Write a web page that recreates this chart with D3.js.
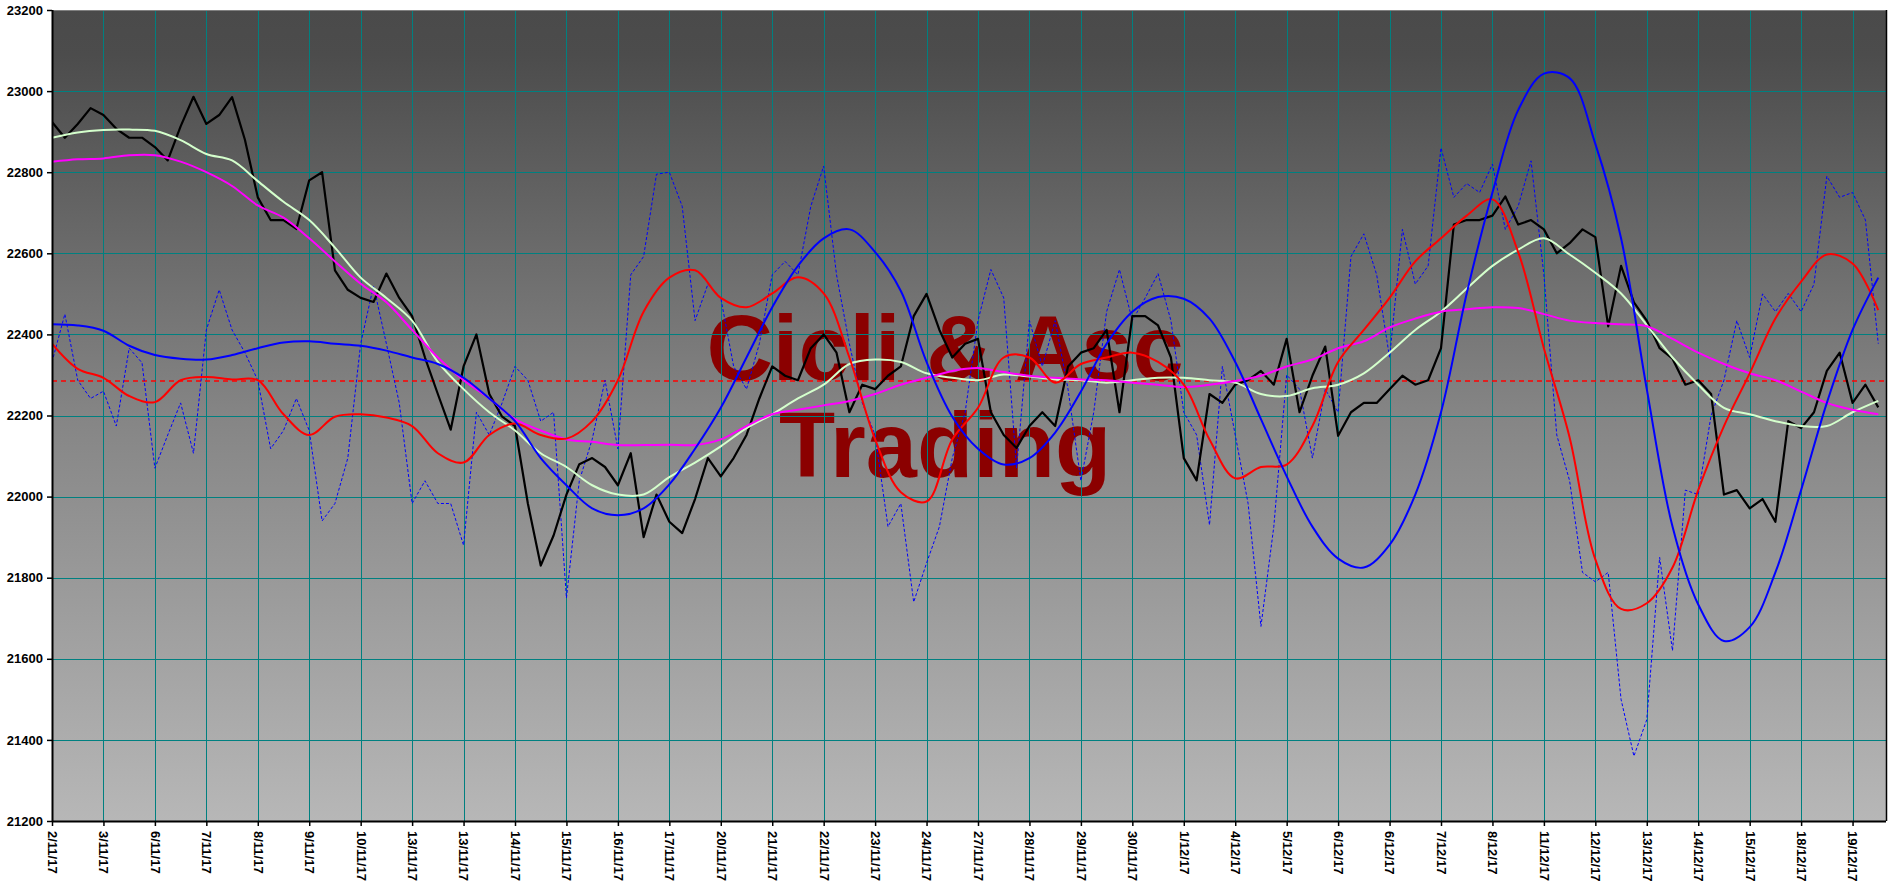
<!DOCTYPE html>
<html><head><meta charset="utf-8">
<script src="https://cdn.jsdelivr.net/npm/d3@7"></script>
<style>html,body{margin:0;padding:0;background:#fff;} svg{display:block;}</style>
</head><body>
<svg id="chart" width="1897" height="894"></svg>
<script>
// ---------- DATA ----------
const dateLabels = ["2/11/17","3/11/17","6/11/17","7/11/17","8/11/17","9/11/17","10/11/17","13/11/17","13/11/17","14/11/17","15/11/17","16/11/17","17/11/17","20/11/17","21/11/17","22/11/17","23/11/17","24/11/17","27/11/17","28/11/17","29/11/17","30/11/17","1/12/17","4/12/17","5/12/17","6/12/17","6/12/17","7/12/17","8/12/17","11/12/17","12/12/17","13/12/17","14/12/17","15/12/17","18/12/17","19/12/17"];
const barsPerLabel = 4;
const yTicks = [21200,21400,21600,21800,22000,22200,22400,22600,22800,23000,23200];

const price = [22924,22885,22919,22958,22941,22907,22885,22885,22862,22829,22913,22986,22919,22941,22985,22880,22738,22682,22682,22660,22780,22800,22558,22510,22490,22480,22550,22490,22445,22343,22253,22165,22321,22400,22253,22197,22174,21983,21830,21904,22005,22080,22095,22073,22028,22107,21900,22005,21938,21910,21994,22095,22050,22095,22152,22242,22321,22298,22287,22366,22400,22355,22208,22276,22265,22298,22321,22445,22500,22411,22343,22377,22389,22208,22152,22120,22174,22208,22174,22321,22355,22366,22411,22208,22445,22445,22422,22343,22095,22040,22253,22231,22276,22287,22310,22276,22389,22208,22298,22370,22150,22208,22231,22231,22265,22298,22276,22287,22366,22671,22682,22682,22693,22740,22671,22682,22659,22600,22625,22659,22640,22420,22569,22479,22434,22366,22340,22276,22287,22253,22005,22016,21971,21994,21938,22186,22169,22208,22310,22355,22231,22276,22220];

const oscillator = [22332,22450,22287,22242,22260,22174,22366,22330,22070,22152,22231,22107,22411,22510,22411,22355,22287,22118,22163,22242,22163,21940,21983,22095,22377,22520,22377,22231,21983,22039,21983,21983,21880,22208,22152,22231,22321,22287,22186,22208,21750,22039,22141,22287,22118,22547,22592,22795,22800,22716,22434,22524,22490,22321,22265,22377,22547,22580,22547,22716,22815,22547,22377,22231,22152,21926,21983,21740,21836,21926,22095,22208,22434,22560,22490,22070,22434,22321,22434,22265,22039,22208,22456,22560,22434,22490,22550,22434,22208,22152,21930,22321,22152,21983,21680,21926,22300,22265,22095,22265,22208,22592,22648,22547,22343,22659,22524,22569,22860,22738,22772,22750,22820,22659,22716,22828,22547,22152,22039,21813,21790,21813,21500,21360,21450,21850,21620,22016,22005,22200,22287,22434,22343,22500,22456,22501,22456,22524,22790,22738,22750,22682,22377];

const smoothStep = 2; // one value every 2 bars
const whiteAvg = [22885,22898,22904,22905,22902,22879,22845,22829,22778,22727,22682,22614,22540,22490,22434,22332,22265,22208,22163,22107,22073,22028,22005,22005,22048,22084,22124,22169,22203,22242,22276,22327,22338,22332,22304,22293,22287,22301,22296,22289,22287,22281,22287,22293,22293,22287,22281,22253,22248,22267,22276,22304,22355,22411,22456,22513,22569,22609,22637,22597,22552,22501,22423,22343,22276,22219,22203,22186,22174,22174,22208,22236];
const magentaAvg = [22826,22832,22834,22842,22842,22826,22800,22766,22718,22688,22637,22580,22525,22479,22411,22343,22287,22242,22191,22163,22141,22135,22127,22127,22128,22127,22141,22174,22203,22214,22225,22236,22253,22276,22293,22310,22317,22307,22298,22293,22289,22287,22281,22276,22270,22276,22285,22298,22321,22338,22366,22383,22417,22439,22456,22462,22467,22465,22450,22434,22428,22425,22420,22389,22355,22327,22304,22287,22259,22231,22214,22203];
const redCycle = [22377,22315,22293,22248,22233,22287,22295,22289,22287,22203,22152,22197,22203,22195,22174,22107,22084,22152,22180,22152,22143,22186,22287,22456,22540,22558,22490,22467,22501,22541,22501,22343,22141,22011,21988,22141,22219,22343,22343,22281,22327,22343,22355,22332,22276,22141,22045,22073,22079,22174,22332,22411,22490,22580,22637,22693,22733,22603,22366,22146,21845,21723,21737,21825,22016,22174,22304,22439,22530,22597,22575,22460];
const blueCycle = [22425,22422,22409,22372,22349,22340,22338,22349,22366,22380,22383,22377,22372,22360,22343,22327,22293,22242,22186,22095,22028,21971,21954,21971,22030,22118,22219,22343,22467,22569,22637,22659,22603,22507,22332,22197,22118,22079,22095,22158,22259,22377,22456,22492,22488,22439,22332,22191,22050,21926,21847,21825,21881,22005,22208,22501,22750,22953,23043,23032,22870,22637,22265,21926,21734,21644,21678,21813,22016,22231,22411,22540];
const refLevel = 22285;
const watermarkLines = ["Cicli & Asc", "Trading"];

// ---------- LAYOUT ----------
const pLeft = 52, pRight = 1886, pTop = 10, pBottom = 821;
const xMax = 142.6;
const x = d3.scaleLinear().domain([0, xMax]).range([pLeft, pRight]);
const y = d3.scaleLinear().domain([21200, 23200]).range([pBottom, pTop]);
const svg = d3.select("#chart");
const font = "Arial, 'Liberation Sans', sans-serif";

const defs = svg.append("defs");
const grad = defs.append("linearGradient").attr("id","bg").attr("x1",0).attr("y1",0).attr("x2",0).attr("y2",1);
grad.append("stop").attr("offset","0%").attr("stop-color","#4a4a4a");
grad.append("stop").attr("offset","5.5%").attr("stop-color","#4c4c4c");
grad.append("stop").attr("offset","50%").attr("stop-color","#858585");
grad.append("stop").attr("offset","100%").attr("stop-color","#b7b7b7");
defs.append("clipPath").attr("id","clip").append("rect")
  .attr("x",pLeft).attr("y",pTop).attr("width",pRight-pLeft).attr("height",pBottom-pTop);
const blur = defs.append("filter").attr("id","soft");
blur.append("feGaussianBlur").attr("stdDeviation",0.7);

svg.append("rect").attr("x",pLeft).attr("y",pTop).attr("width",pRight-pLeft).attr("height",pBottom-pTop).attr("fill","url(#bg)");

// watermark
const wm = svg.append("g").attr("filter","url(#soft)");
wm.selectAll("text").data(watermarkLines).join("text")
  .attr("x", 945).attr("y", (d,i)=> i===0 ? 380 : 477)
  .attr("text-anchor","middle")
  .attr("font-family", font).attr("font-weight","bold").attr("font-size", 92)
  .attr("fill","#8b0000").text(d=>d);

// grid
const xTickVals = dateLabels.map((d,i)=>i*barsPerLabel);
const grid = svg.append("g").attr("shape-rendering","crispEdges").attr("stroke","#008080").attr("stroke-width",1);
grid.selectAll("line.h").data(yTicks.slice(1,-1)).join("line").attr("class","h")
  .attr("x1",pLeft).attr("x2",pRight).attr("y1",d=>Math.round(y(d))+0.5).attr("y2",d=>Math.round(y(d))+0.5);
grid.selectAll("line.v").data(xTickVals.slice(1)).join("line").attr("class","v")
  .attr("y1",pTop).attr("y2",pBottom).attr("x1",d=>Math.round(x(d))+0.5).attr("x2",d=>Math.round(x(d))+0.5);

const plot = svg.append("g").attr("clip-path","url(#clip)");

// reference level
plot.append("line").attr("x1",pLeft).attr("x2",pRight).attr("y1",y(refLevel)).attr("y2",y(refLevel))
  .attr("stroke","#ff0000").attr("stroke-width",1.6).attr("stroke-dasharray","5,4");

const lineRaw = d3.line().x((d,i)=>x(i)).y(d=>y(d));
const lineSmooth = d3.line().x((d,i)=>x(i*smoothStep)).y(d=>y(d)).curve(d3.curveCatmullRom.alpha(0.5));

plot.append("path").datum(oscillator).attr("d",lineRaw).attr("fill","none")
  .attr("stroke","#0000ff").attr("stroke-width",1).attr("stroke-dasharray","3,2");
plot.append("path").datum(price).attr("d",lineRaw).attr("fill","none")
  .attr("stroke","#000").attr("stroke-width",2.2).attr("stroke-linejoin","round");
plot.append("path").datum(whiteAvg).attr("d",lineSmooth).attr("fill","none")
  .attr("stroke","#d4ffcc").attr("stroke-width",2);
plot.append("path").datum(magentaAvg).attr("d",lineSmooth).attr("fill","none")
  .attr("stroke","#ff00ff").attr("stroke-width",2);
plot.append("path").datum(redCycle).attr("d",lineSmooth).attr("fill","none")
  .attr("stroke","#ff0000").attr("stroke-width",2);
plot.append("path").datum(blueCycle).attr("d",lineSmooth).attr("fill","none")
  .attr("stroke","#0000ff").attr("stroke-width",2);

// border
svg.append("line").attr("x1",pLeft).attr("x2",pRight).attr("y1",pTop+0.5).attr("y2",pTop+0.5).attr("stroke","#808080").attr("stroke-width",1);
svg.append("line").attr("x1",pRight+0.5).attr("x2",pRight+0.5).attr("y1",pTop).attr("y2",pBottom).attr("stroke","#000").attr("stroke-width",1.5);

// axes
const yAxis = svg.append("g").attr("transform",`translate(${pLeft},0)`)
  .call(d3.axisLeft(y).tickValues(yTicks).tickSize(5).tickPadding(4).tickFormat(d3.format("d")));
const xAxis = svg.append("g").attr("transform",`translate(0,${pBottom})`)
  .call(d3.axisBottom(x).tickValues(xTickVals).tickSize(5).tickFormat((d,i)=>dateLabels[i]));
[yAxis,xAxis].forEach(a=>{
  a.select(".domain").attr("stroke","#000").attr("stroke-width",2);
  a.selectAll(".tick line").attr("stroke","#000").attr("stroke-width",1.5);
  a.selectAll("text").attr("font-family",font).attr("font-weight","bold").attr("font-size",13).attr("fill","#000");
});
yAxis.select(".domain").attr("d",`M0.5,${pTop}V${pBottom}`);
xAxis.select(".domain").attr("d",`M${pLeft},0.5H${pRight}`);
xAxis.selectAll("text").attr("transform","rotate(90)").attr("x",10).attr("y",0).attr("dy","0.35em").attr("text-anchor","start");
</script>
</body></html>
